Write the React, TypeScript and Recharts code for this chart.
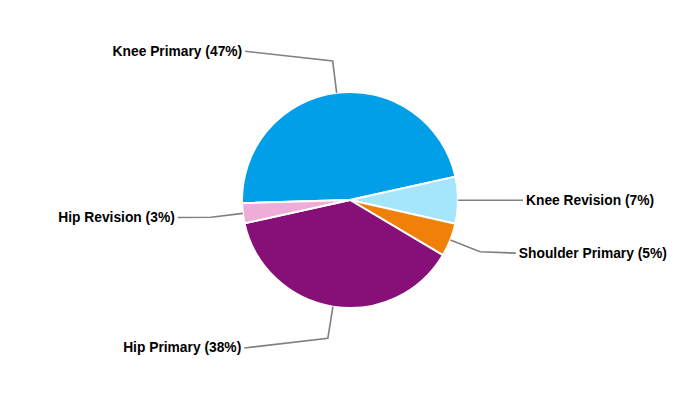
import React from "react";
import { PieChart, Pie, Cell } from "recharts";

const categories = ["Knee Primary", "Knee Revision", "Shoulder Primary", "Hip Primary", "Hip Revision"];
const shares = [47, 7, 5, 38, 3];
const colors = ["#009fe8", "#a5e6fd", "#f08008", "#861078", "#f0acd9"];

const data = categories.map((name, i) => ({ name, value: shares[i] }));

const RAD = Math.PI / 180;

const renderLabel = (props: any) => {
  const { cx, cy, midAngle, outerRadius, name, value } = props;
  const cos = Math.cos(-midAngle * RAD);
  const sin = Math.sin(-midAngle * RAD);
  const left = cos < 0;
  const ex = cx + outerRadius * cos;
  const ey = cy + outerRadius * sin;
  const bx = cx + (outerRadius + 32) * cos;
  const by = cy + (outerRadius + 32) * sin;
  const ly = cy + (140 + 10 * Math.abs(sin)) * sin;
  const dy = ly - cy;
  const half = 173 * Math.sqrt(Math.max(0, 1 - (dy / 187) * (dy / 187)));
  const lx = cx + (left ? -half : half);
  return (
    <g>
      <path
        d={`M${ex},${ey}L${bx},${by}L${lx},${ly}`}
        stroke="#808080"
        strokeWidth={1.6}
        fill="none"
      />
      <text
        x={lx + (left ? -3 : 3)}
        y={ly}
        textAnchor={left ? "end" : "start"}
        dominantBaseline="central"
        fontFamily="'Liberation Sans', Arial, sans-serif"
        fontWeight="bold"
        fontSize={13.8}
        fill="#000"
      >
        {`${name} (${value}%)`}
      </text>
    </g>
  );
};

export default function App() {
  return (
    <div style={{ position: "absolute", left: 0, top: 0, background: "#fff" }}>
      <PieChart width={700} height={400} margin={{ top: 0, right: 0, bottom: 0, left: 0 }}>
        <Pie
          data={data}
          dataKey="value"
          nameKey="name"
          cx={350}
          cy={200}
          outerRadius={108}
          startAngle={181.7}
          endAngle={-178.3}
          stroke="#ffffff"
          strokeWidth={2}
          label={renderLabel}
          labelLine={false}
          isAnimationActive={false}
        >
          {data.map((d, i) => (
            <Cell key={d.name} fill={colors[i]} />
          ))}
        </Pie>
      </PieChart>
    </div>
  );
}
